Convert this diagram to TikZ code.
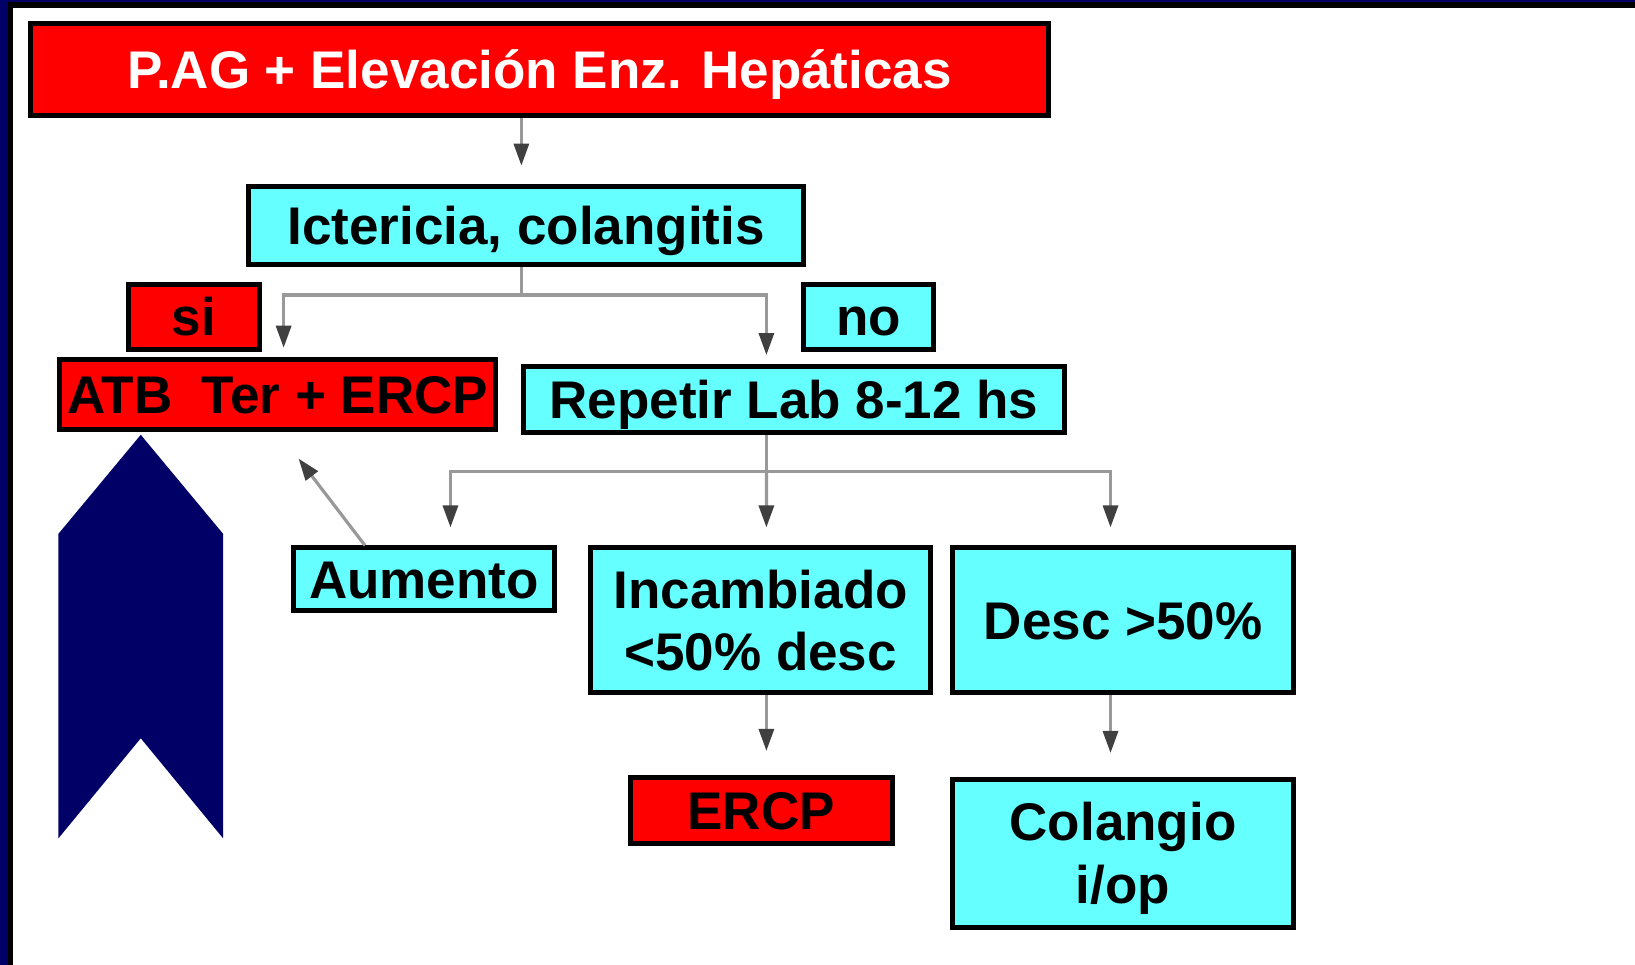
\documentclass[tikz,border=0pt]{standalone}
\usepackage{fontspec}
\setmainfont{Liberation Sans}
\usepackage{xcolor}
\usepackage{tikz}
\usetikzlibrary{arrows.meta}

\definecolor{rojo}{HTML}{FF0000}
\definecolor{celeste}{HTML}{66FFFF}
\definecolor{marino}{HTML}{000066}

\begin{document}
\begin{tikzpicture}[x=0.52135pt, y=-0.52135pt,
        caja/.style={draw=black, line width=2.5pt, inner sep=0pt, align=center,
            font=\fontsize{26.5pt}{31.3pt}\selectfont\bfseries},
        una/.style={text height=19pt, text depth=0pt},
        roja/.style={caja, fill=rojo},
        azul/.style={caja, fill=celeste},
        linea/.style={draw=black!40, line width=1.6pt},
        flecha/.style={linea, -{Triangle[length=11pt, width=7.5pt, color=black!75]}, shorten >=9pt}]
        \useasboundingbox (0,0) rectangle (1568,925);

        \fill[marino] (0,0) rectangle (8,925);
        \fill[marino] (0,0) rectangle (1568,2);
        \fill[black] (8,2) rectangle (12,925);
        \fill[black] (8,2) rectangle (1568,8);

        \node[roja, una, text=white, minimum width=508.8pt, minimum height=45.9pt] (pag) at (517.5,66.5) {P.AG + Elevación Enz. Hepáticas};
        \node[azul, una, minimum width=277.4pt, minimum height=39.1pt] (ict) at (504.5,216) {Ictericia, colangitis};
        \node[roja, una, minimum width=65.2pt, minimum height=32.8pt] (si) at (186,304) {si};
        \node[azul, una, minimum width=65.2pt, minimum height=32.8pt] (no) at (833,304) {no};
        \node[roja, una, minimum width=217.9pt, minimum height=34.9pt] (atb) at (266.5,378) {ATB~~Ter + ERCP};
        \node[azul, una, minimum width=270.1pt, minimum height=32.8pt] (rep) at (761.5,383) {Repetir Lab 8-12 hs};
        \node[azul, una, minimum width=130.3pt, minimum height=31.3pt] (aum) at (406.5,555.5) {Aumento};
        \node[azul, minimum width=170pt, minimum height=72.5pt] (inc) at (729.5,595) {Incambiado\\<50\% desc};
        \node[azul, una, minimum width=170.5pt, minimum height=72.5pt] (desc) at (1077,595) {Desc >50\%};
        \node[roja, una, minimum width=130.9pt, minimum height=32.8pt] (ercp) at (730,777) {ERCP};
        \node[azul, minimum width=170.5pt, minimum height=74pt] (col) at (1077,818.5) {\rule{0pt}{24pt}Colangio\\i/op};

        \coordinate (j1) at (500,283);
        \coordinate (j2) at (735,452);

        \draw[flecha] ([shift={(-4.5,0)}]ict.north |- pag.south) -- ([shift={(-4.5,0)}]ict.north);
        \draw[linea] ([shift={(-4.5,0)}]ict.south) -- (j1);
        \draw[flecha, shorten >=4.5pt] (j1) -| ([shift={(5.5,0)}]atb.north); % si
        \draw[flecha, shorten >=4.5pt] (j1) -| ([shift={(-26.5,0)}]rep.north); % no
        \draw[linea] ([shift={(-26.5,0)}]rep.south) -- (j2);
        \draw[flecha] (j2) -| ([shift={(25.5,0)}]aum.north);
        \draw[flecha] (j2) -- ([shift={(5.5,0)}]inc.north);
        \draw[flecha] (j2) -| ([shift={(-12,0)}]desc.north);
        \draw[flecha, shorten >=17pt] ([shift={(-56.5,0)}]aum.north) -- (atb.south);
        \draw[flecha, shorten >=12pt] ([shift={(5.5,0)}]inc.south) -- ([shift={(5.5,0)}]inc.south |- ercp.north);
        \draw[flecha, shorten >=12pt] ([shift={(-12,0)}]desc.south) -- ([shift={(-12,0)}]desc.south |- col.north);

        \fill[marino] (135,417) -- (214,512) -- (214,804) -- (135,708) -- (56,804) -- (56,512) -- cycle;
\end{tikzpicture}
\end{document}
